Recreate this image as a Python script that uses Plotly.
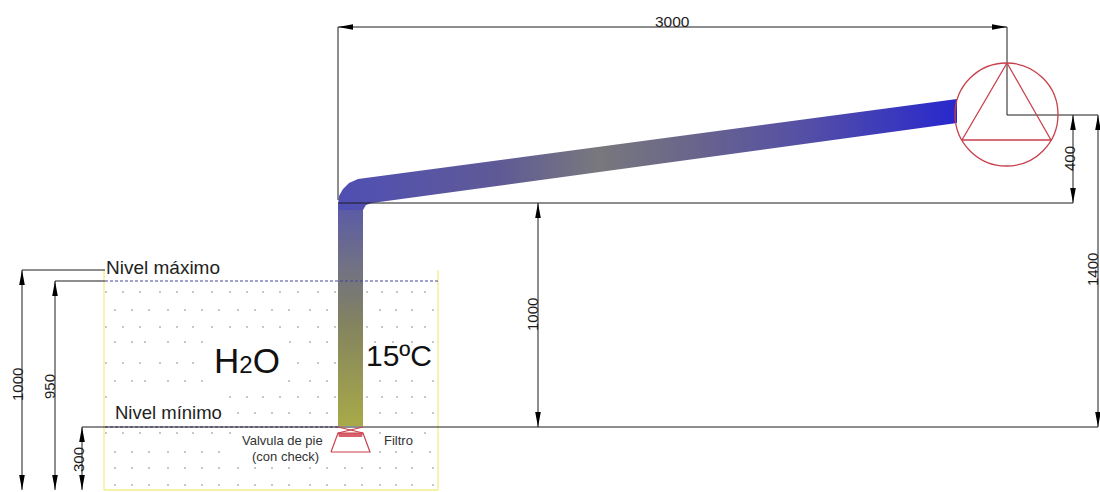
import plotly.graph_objects as go

W, H = 1100, 492
BLACK = "#1c1c1c"
RED = "#c9404c"
DASH = "#45459a"
YEL = "#f2ee8a"

# dimension lines: (x list, y list)
dim_lines = [
    ([338, 338, 1007, 1007, 1098, 1098], [200, 27, 27, 115, 115, 427]),
    ([338, 1073], [203, 203]),
    ([1073, 1073], [115, 203]),
    ([538, 538], [203, 427]),
    ([82, 82, 1098], [490, 427, 427]),
    ([22, 22, 105], [490, 270, 270]),
    ([55, 55, 105], [490, 281, 281]),
]
# arrow tips: x, y, direction
arrow_tips = [
    (338, 27, "l"), (1007, 27, "r"),
    (1073, 115, "u"), (1073, 203, "d"),
    (1098, 115, "u"), (1098, 427, "d"),
    (538, 203, "u"), (538, 427, "d"),
    (22, 270, "u"), (22, 490, "d"),
    (55, 281, "u"), (55, 490, "d"),
    (82, 427, "u"), (82, 490, "d"),
]
dashed_x = [[105, 440], [105, 338]]
dashed_y = [[281, 281], [427, 427]]
tank_x = [104, 104, None, 438, 438, None, 104, 438]
tank_y = [270, 490, None, 270, 490, None, 490, 490]

# dots of the water hatch
dot_rows = {
    292: [106, 123, 140, 160, 177, 193, 212, 230, 247, 263, 280, 298, 318, 335, 367, 382, 397, 412, 425],
    310: [115, 132, 149, 168, 185, 202, 219, 238, 255, 272, 289, 310, 327, 380, 396, 412, 433],
    327: [106, 123, 140, 160, 177, 193, 212, 230, 247, 263, 280, 298, 318, 335, 367, 382, 397, 412, 425],
    342: [115, 132, 145, 168, 185, 202, 290, 310, 327, 375, 393, 412, 433],
    363: [106, 123, 140, 160, 177, 193, 298, 318, 335],
    381: [115, 132, 145, 168, 185, 202, 289, 310, 327, 380, 396, 412, 433],
    397: [106, 230, 247, 263, 280, 298, 318, 335, 367, 382, 397, 412, 425],
    413: [238, 255, 272, 289, 310, 327, 380, 396, 412, 433],
    433: [106, 123, 140, 160, 177, 193, 212, 230, 380, 425],
    452: [115, 132, 149, 168, 185, 202, 219, 430, 412, 396, 380],
    468: [115, 132, 149, 168, 185, 202, 219, 238, 255, 272, 289, 310, 327, 345, 362, 380, 396, 412, 433],
    485: [115, 132, 149, 168, 185, 202, 219, 238, 255, 272, 289, 310, 327, 345, 362, 380, 396, 412, 433],
}

# pipe outlines
leg_x = [338, 363, 363, 338, 338]
leg_y = [205, 205, 426, 426, 205]
leg_colors = [[0, "#a8aa48"], [0.45, "#84845f"], [0.75, "#6f6f88"], [1, "#5a5aa8"]]
run_x = [338, 339, 343, 349, 358, 957, 957, 372, 366, 363, 338]
run_y = [205, 196, 189, 183, 179, 99, 123, 203, 205, 210, 210]
run_colors = [[0, "#4f4fb4"], [0.26, "#5f5a96"], [0.42, "#78787d"], [0.58, "#69648c"], [0.75, "#5550a5"], [1, "#2828cd"]]

# pump
pump_cx, pump_cy, pump_r = 1006.5, 114.5, 51.5
tri_x = [1007, 962, 1051, 1007]
tri_y = [63, 140, 140, 63]

# foot valve
valve_x = [331, 338, 363, 370, 331, None, 338, 363, None, 363, 338]
valve_y = [452, 433, 433, 452, 452, None, 427, 433, None, 427, 433]
valve_band_x = [338, 363, 362, 339, 338]
valve_band_y = [433, 433, 437, 437, 433]

labels = [
    ("3000", 672, 21, 15.5, 0, BLACK),
    ("400", 1069, 159, 15, -90, BLACK),
    ("1400", 1092, 270, 15, -90, BLACK),
    ("1000", 532, 315, 15, -90, BLACK),
    ("1000", 17, 385, 15, -90, BLACK),
    ("950", 49, 387, 15, -90, BLACK),
    ("300", 78, 460, 15, -90, BLACK),
    ("Nivel máximo", 163, 267, 19, 0, "#222222"),
    ("Nivel mínimo", 168, 412, 18.5, 0, "#222222"),
    ("15ºC", 399, 355, 30, 0, "#111111"),
    ("Valvula de pie", 282, 440, 13, 0, "#333333"),
    ("(con check)", 285, 456, 13, 0, "#333333"),
    ("Filtro", 398, 440, 13, 0, "#333333"),
]

fig = go.Figure()

# tank walls
fig.add_trace(go.Scatter(x=tank_x, y=tank_y, mode="lines", line=dict(color=YEL, width=1.3)))

# hatch dots
dx, dy = [], []
for ry, xs in dot_rows.items():
    dx += xs
    dy += [ry] * len(xs)
fig.add_trace(go.Scatter(x=dx, y=dy, mode="markers", marker=dict(size=2, color="#b5b5b5", line_width=0)))

# pipe
fig.add_trace(go.Scatter(x=leg_x, y=leg_y, mode="lines", line_width=0, fill="toself",
                         fillgradient=dict(type="vertical", colorscale=leg_colors)))
fig.add_trace(go.Scatter(x=run_x, y=run_y, mode="lines", line_width=0, fill="toself",
                         fillgradient=dict(type="horizontal", colorscale=run_colors)))

# levels
for xs, ys in zip(dashed_x, dashed_y):
    fig.add_trace(go.Scatter(x=xs, y=ys, mode="lines", line=dict(color=DASH, width=1, dash="3px,2px")))

# dimension lines
for xs, ys in dim_lines:
    fig.add_trace(go.Scatter(x=xs, y=ys, mode="lines", line=dict(color=BLACK, width=1)))

# arrows
ax, ay = [], []
for x, y, d in arrow_tips:
    L, w = 15, 2.8
    if d == "u":
        ax += [x, x - w, x + w, x, None]; ay += [y, y + L, y + L, y, None]
    elif d == "d":
        ax += [x, x - w, x + w, x, None]; ay += [y, y - L, y - L, y, None]
    elif d == "l":
        ax += [x, x + L, x + L, x, None]; ay += [y, y - w, y + w, y, None]
    else:
        ax += [x, x - L, x - L, x, None]; ay += [y, y - w, y + w, y, None]
fig.add_trace(go.Scatter(x=ax, y=ay, mode="lines", line_width=0, fill="toself", fillcolor="#000000"))

# pump
fig.add_shape(type="circle", x0=pump_cx - pump_r, x1=pump_cx + pump_r, y0=pump_cy - pump_r, y1=pump_cy + pump_r,
              line=dict(color=RED, width=1.3))
fig.add_trace(go.Scatter(x=tri_x, y=tri_y, mode="lines", line=dict(color=RED, width=1.3)))

# valve
fig.add_trace(go.Scatter(x=valve_band_x, y=valve_band_y, mode="lines", line_width=0, fill="toself", fillcolor="#d8606c"))
fig.add_trace(go.Scatter(x=valve_x, y=valve_y, mode="lines", line=dict(color=RED, width=1.2)))

for t, x, y, s, a, c in labels:
    fig.add_annotation(x=x, y=y, text=t, showarrow=False, textangle=a,
                       font=dict(family="Liberation Sans", size=s, color=c),
                       xanchor="center", yanchor="middle")
fig.add_annotation(x=247, y=360, text="H<span style='font-size:24px'>2</span>O", showarrow=False,
                   font=dict(family="Liberation Sans", size=35, color="#111111"), xanchor="center", yanchor="middle")

fig.update_layout(
    width=W, height=H, margin=dict(l=0, r=0, t=0, b=0),
    paper_bgcolor="white", plot_bgcolor="white", showlegend=False,
    xaxis=dict(range=[0, W], visible=False, fixedrange=True),
    yaxis=dict(range=[H, 0], visible=False, fixedrange=True),
)
fig.write_html("out.html", post_script="document.body.style.margin='0';", config={"displayModeBar": False})
